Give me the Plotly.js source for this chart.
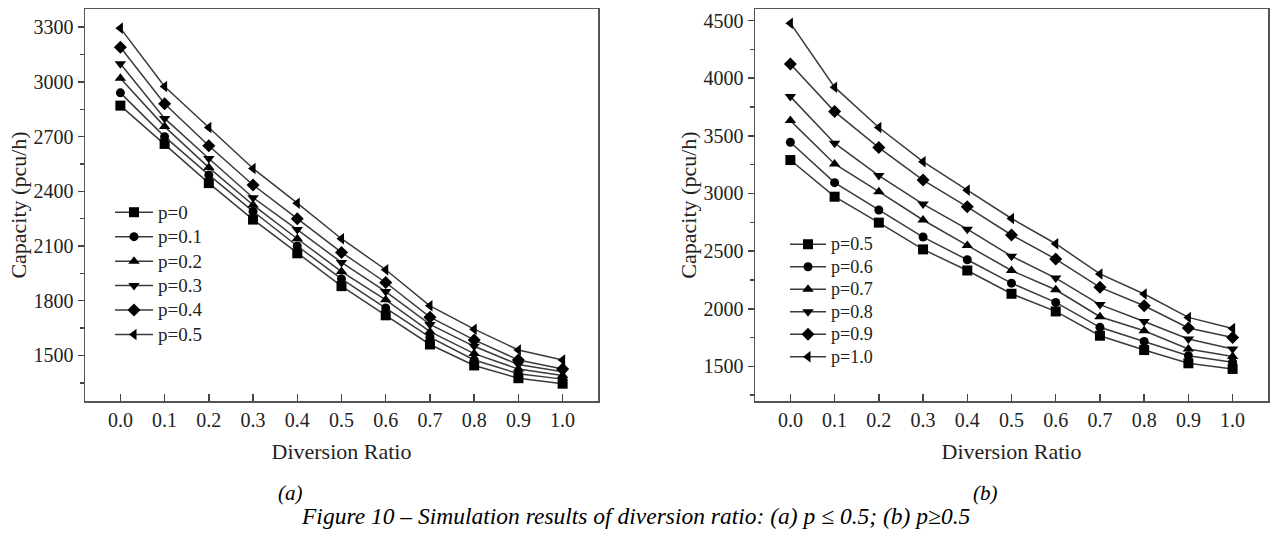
<!DOCTYPE html>
<html>
<head>
<meta charset="utf-8">
<script src="https://cdn.plot.ly/plotly-3.0.1.min.js"></script>
<style>html,body{margin:0;padding:0;background:#fff;}#chart{width:1271px;height:538px;}</style>
</head>
<body>
<div id="chart"></div>
<script>
// Diversion ratio (x axis of both panels)
const diversionRatio = [0.0, 0.1, 0.2, 0.3, 0.4, 0.5, 0.6, 0.7, 0.8, 0.9, 1.0];

// Panel (a): p <= 0.5
const namesA = ["p=0", "p=0.1", "p=0.2", "p=0.3", "p=0.4", "p=0.5"];
const capA_p00 = [2870, 2660, 2445, 2245, 2060, 1880, 1720, 1560, 1445, 1375, 1345];
const capA_p01 = [2940, 2700, 2490, 2290, 2100, 1920, 1760, 1600, 1475, 1400, 1370];
const capA_p02 = [3020, 2755, 2530, 2325, 2140, 1960, 1805, 1630, 1510, 1425, 1390];
const capA_p03 = [3100, 2800, 2580, 2365, 2190, 2010, 1850, 1670, 1550, 1450, 1410];
const capA_p04 = [3190, 2880, 2650, 2435, 2250, 2065, 1900, 1710, 1585, 1475, 1425];
const capA_p05 = [3295, 2975, 2750, 2525, 2335, 2140, 1970, 1772, 1644, 1530, 1475];

// Panel (b): p >= 0.5
const namesB = ["p=0.5", "p=0.6", "p=0.7", "p=0.8", "p=0.9", "p=1.0"];
const capB_p05 = [3290, 2972, 2747, 2515, 2332, 2130, 1977, 1766, 1642, 1527, 1478];
const capB_p06 = [3444, 3094, 2857, 2622, 2425, 2222, 2055, 1839, 1716, 1593, 1536];
const capB_p07 = [3632, 3256, 3016, 2770, 2549, 2332, 2165, 1931, 1809, 1651, 1585];
const capB_p08 = [3840, 3436, 3155, 2908, 2690, 2456, 2266, 2036, 1890, 1738, 1651];
const capB_p09 = [4122, 3710, 3398, 3116, 2884, 2640, 2431, 2186, 2026, 1833, 1750];
const capB_p10 = [4477, 3922, 3572, 3276, 3029, 2783, 2564, 2302, 2128, 1925, 1828];

const symbols = ["square", "circle", "triangle-up", "triangle-down", "diamond", "triangle-left"];
const xTickVals = [0.0, 0.1, 0.2, 0.3, 0.4, 0.5, 0.6, 0.7, 0.8, 0.9, 1.0];
const xTickText = ["0.0", "0.1", "0.2", "0.3", "0.4", "0.5", "0.6", "0.7", "0.8", "0.9", "1.0"];

const seriesA = [capA_p00, capA_p01, capA_p02, capA_p03, capA_p04, capA_p05];
const seriesB = [capB_p05, capB_p06, capB_p07, capB_p08, capB_p09, capB_p10];

const FONT = "Liberation Serif, Times New Roman, serif";
const traces = [];
seriesA.forEach((ys, i) => {
  traces.push({
    x: diversionRatio, y: ys, type: "scatter", mode: "lines+markers",
    name: '<span style="font-size:19px">' + namesA[i] + '</span>',
    xaxis: "x", yaxis: "y", legend: "legend",
    line: {color: "#3a3a3a", width: 1.5},
    marker: {symbol: symbols[i], size: symbols[i] === "circle" ? 9 : 10, color: "#000"}
  });
});
seriesB.forEach((ys, i) => {
  traces.push({
    x: diversionRatio, y: ys, type: "scatter", mode: "lines+markers",
    name: '<span style="font-size:18px">' + namesB[i] + '</span>',
    xaxis: "x2", yaxis: "y2", legend: "legend2",
    line: {color: "#3a3a3a", width: 1.5},
    marker: {symbol: symbols[i], size: symbols[i] === "circle" ? 9 : 10, color: "#000"}
  });
});

const xCommon = {
  range: [-0.08, 1.08], tickmode: "array", tickvals: xTickVals, ticktext: xTickText,
  ticks: "inside", ticklen: 7, tickwidth: 1.5, tickcolor: "#444",
  showline: true, linecolor: "#555", linewidth: 1.5, mirror: true,
  showgrid: false, zeroline: false,
  tickfont: {family: FONT, size: 20, color: "#222"},
  title: {text: "Diversion Ratio", font: {family: FONT, size: 22, color: "#222"}, standoff: 14}
};
const yCommon = {
  ticks: "outside", ticklen: 6, tickwidth: 1.5, tickcolor: "#444",
  showline: true, linecolor: "#555", linewidth: 1.5, mirror: true,
  showgrid: false, zeroline: false,
  tickfont: {family: FONT, size: 20, color: "#222"},
  title: {text: "Capacity (pcu/h)", font: {family: FONT, size: 22, color: "#222"}, standoff: 1}
};

const layout = {
  width: 1271, height: 538,
  margin: {l: 0, r: 0, t: 0, b: 0},
  paper_bgcolor: "#fff", plot_bgcolor: "#fff",
  showlegend: true,
  xaxis: Object.assign({}, xCommon, {domain: [85/1271, 598/1271], anchor: "y"}),
  yaxis: Object.assign({}, yCommon, {domain: [137/538, 529/538], anchor: "x",
    range: [1250, 3400], tickmode: "linear", tick0: 1500, dtick: 300,
    minor: {ticks: "outside", ticklen: 4, tickcolor: "#444", dtick: 150, tick0: 1350}}),
  xaxis2: Object.assign({}, xCommon, {domain: [755/1271, 1268/1271], anchor: "y2"}),
  yaxis2: Object.assign({}, yCommon, {domain: [137/538, 529/538], anchor: "x2",
    range: [1200, 4600], tickmode: "linear", tick0: 1500, dtick: 500,
    minor: {ticks: "outside", ticklen: 4, tickcolor: "#444", dtick: 250, tick0: 1250}}),
  legend: {x: 110/1271, y: 1 - 195/538, xanchor: "left", yanchor: "top",
    bgcolor: "rgba(0,0,0,0)", borderwidth: 0, tracegroupgap: 0, itemwidth: 38,
    font: {family: FONT, size: 16.5, color: "#222"}},
  legend2: {x: 785/1271, y: 1 - 228/538, xanchor: "left", yanchor: "top",
    bgcolor: "rgba(0,0,0,0)", borderwidth: 0, tracegroupgap: 0, itemwidth: 36,
    font: {family: FONT, size: 15, color: "#222"}},
  annotations: [
    {text: "<i>(a)</i>", x: 290/1271, y: 1 - 493/538, xref: "paper", yref: "paper",
     xanchor: "center", yanchor: "middle",
     showarrow: false, font: {family: FONT, size: 21, color: "#000"}},
    {text: "<i>(b)</i>", x: 985/1271, y: 1 - 493/538, xref: "paper", yref: "paper",
     xanchor: "center", yanchor: "middle",
     showarrow: false, font: {family: FONT, size: 21, color: "#000"}},
    {text: "<i>Figure 10 – Simulation results of diversion ratio: (a) p ≤ 0.5; (b) p≥0.5</i>",
     x: 636/1271, y: 1 - 516/538, xref: "paper", yref: "paper",
     xanchor: "center", yanchor: "middle",
     showarrow: false, font: {family: FONT, size: 23.5, color: "#000"}}
  ]
};

Plotly.newPlot("chart", traces, layout, {displayModeBar: false, staticPlot: true});
</script>
</body>
</html>
